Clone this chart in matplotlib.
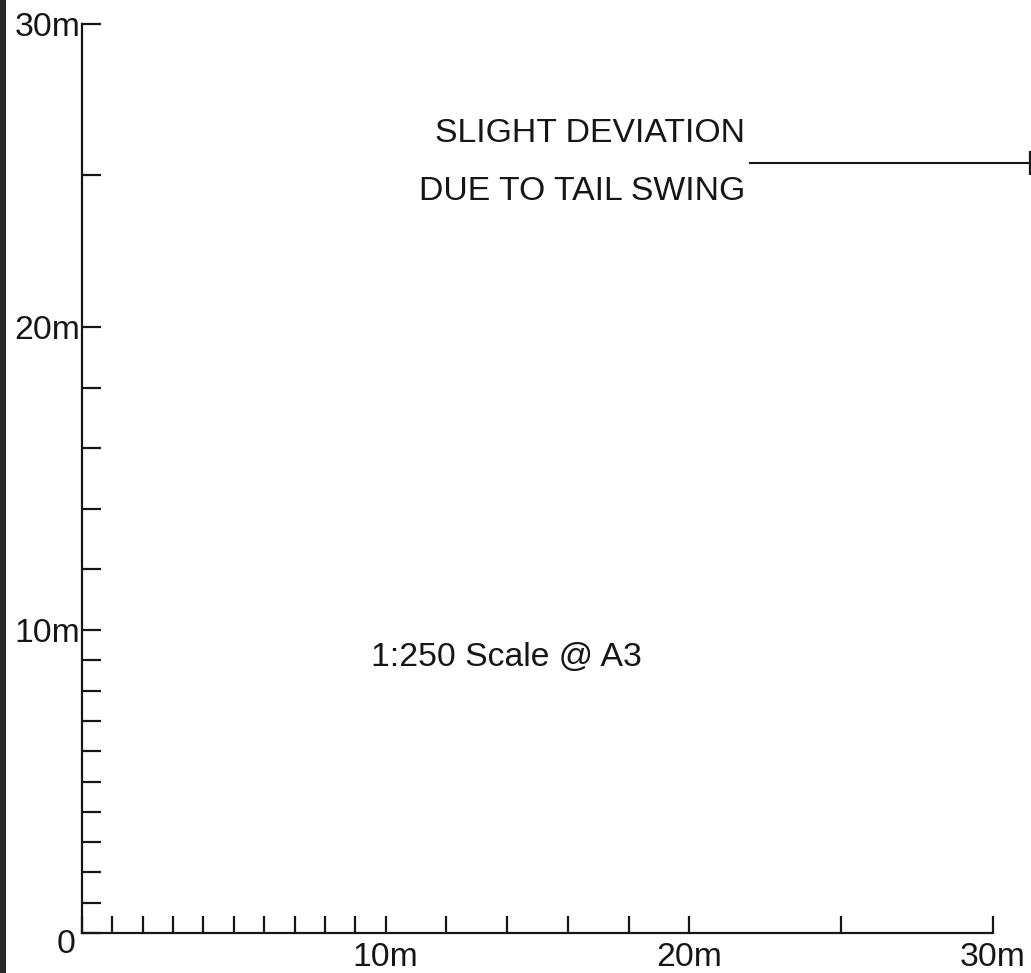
import matplotlib
matplotlib.use("Agg")
import matplotlib.pyplot as plt
from matplotlib.patches import Rectangle

plt.rcParams['font.family'] = ['Liberation Sans', 'DejaVu Sans']

# ---- data ----
major_ticks = [0, 10, 20, 30]
x_minor_ticks = [1, 2, 3, 4, 5, 6, 7, 8, 9, 12, 14, 16, 18, 25]
y_minor_ticks = [1, 2, 3, 4, 5, 6, 7, 8, 9, 12, 14, 16, 18, 25]
major_labels = ["", "10m", "20m", "30m"]
origin_label = "0"
note_lines = ["SLIGHT DEVIATION", "DUE TO TAIL SWING"]
note_line_x = [22.0, 31.22]
note_line_y = [25.42, 25.42]
scale_text = "1:250 Scale @ A3"

W, H = 1031, 973
fig = plt.figure(figsize=(W / 100, H / 100), dpi=100)
fig.patch.set_facecolor('white')

# axes fill the figure; data origin at pixel (82, 933)
px_per_m_x = 30.37
px_per_m_y = 30.3
ax = fig.add_axes([0, 0, 1, 1])
ax.set_xlim(-82 / px_per_m_x, (W - 82) / px_per_m_x)
ax.set_ylim(-(H - 933) / px_per_m_y, 933 / px_per_m_y)
ax.set_facecolor('none')

col = '#161616'
fs = 24.3
for s in ['top', 'right']:
    ax.spines[s].set_visible(False)
for s in ['left', 'bottom']:
    ax.spines[s].set_position(('data', 0))
    ax.spines[s].set_bounds(0, 30)
    ax.spines[s].set_color(col)
    ax.spines[s].set_linewidth(1.6)

ax.set_xticks(major_ticks)
ax.set_yticks(major_ticks)
ax.set_xticks(x_minor_ticks, minor=True)
ax.set_yticks(y_minor_ticks, minor=True)
ax.set_xticklabels(major_labels)
ax.set_yticklabels(major_labels)

ax.tick_params(axis='x', which='both', direction='in', length=12, width=1.6,
               color=col, labelsize=fs, labelcolor=col, pad=6.5)
ax.tick_params(axis='y', which='both', direction='in', length=13.5, width=1.6,
               color=col, labelsize=fs, labelcolor=col, pad=1)

ax.text(-0.23, -0.38, origin_label, ha='right', va='center', fontsize=fs, color=col)

# annotation
ax.plot(note_line_x, note_line_y, color=col, lw=1.5, marker='|', markevery=[1],
        markersize=17, markeredgewidth=1.6, clip_on=False)
ax.text(21.83, 26.40, note_lines[0], ha='right', va='center', fontsize=fs, color=col)
ax.text(21.83, 24.48, note_lines[1], ha='right', va='center', fontsize=fs, color=col)

ax.text(9.52, 9.10, scale_text, ha='left', va='center', fontsize=fs, color=col)

# dark edge bar at the left of the sheet
fig.patches.append(Rectangle((0, 0), 6 / W, 1, transform=fig.transFigure,
                             facecolor='#2a2a2a', edgecolor='none'))

fig.savefig('out.png', dpi=100, facecolor='white')
